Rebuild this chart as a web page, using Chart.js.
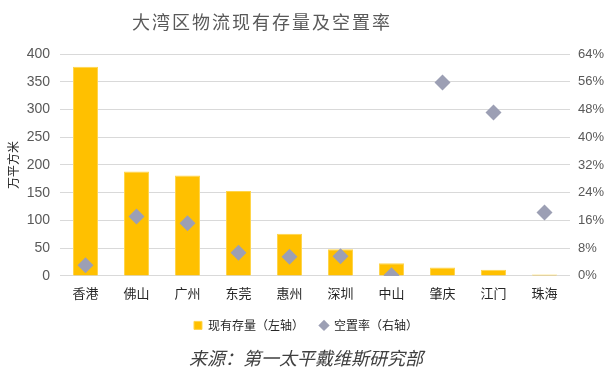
<!DOCTYPE html>
<html>
<head>
<meta charset="utf-8">
<script src="https://cdn.jsdelivr.net/npm/chart.js@4/dist/chart.umd.min.js"></script>
<style>
  html, body { margin: 0; padding: 0; background: #fff; }
  #wrap { width: 612px; height: 381px; }
</style>
</head>
<body>
<div id="wrap"><canvas id="mainChart" width="612" height="381"></canvas></div>
<script>
var cities = ["香港", "佛山", "广州", "东莞", "惠州", "深圳", "中山", "肇庆", "江门", "珠海"];
var stock = [377, 188, 181, 153, 76, 48, 23, 15, 11, 2.5];          // 万平方米
var vacancy = [0.031, 0.171, 0.152, 0.067, 0.055, 0.057, 0.002, 0.558, 0.471, 0.183];
var leftTicks = [0, 50, 100, 150, 200, 250, 300, 350, 400];
var rightTicks = [0, 0.08, 0.16, 0.24, 0.32, 0.40, 0.48, 0.56, 0.64];
var chartTitle = "大湾区物流现有存量及空置率";

var cjk = "'Noto Sans CJK SC', sans-serif";
var grey = "#595959";

// title drawn by hand: the original sits left of centre and is letter-spaced
var titlePlugin = {
    id: 'spacedTitle',
    afterDraw: function (chart) {
        var c = chart.ctx;
        c.save();
        c.font = "18px " + cjk;
        if ('letterSpacing' in c) c.letterSpacing = "2px";
        c.fillStyle = grey;
        c.textAlign = 'center';
        c.textBaseline = 'middle';
        c.fillText(chartTitle, 262, 22);
        c.restore();
    }
};

var chartData = {
    labels: cities,
    datasets: [
        {
            type: 'bar',
            label: "现有存量（左轴）",
            data: stock,
            yAxisID: 'y',
            backgroundColor: "#FFC000",
            borderColor: "#FFD54A",
            borderWidth: 1,
            barPercentage: 0.49,
            categoryPercentage: 1,
            pointStyle: 'rect',
            order: 2
        },
        {
            type: 'line',
            label: "空置率（右轴）",
            data: vacancy,
            yAxisID: 'y1',
            showLine: false,
            pointStyle: 'rectRot',
            pointRadius: 8,
            pointHoverRadius: 8,
            backgroundColor: "#9C9FB4",
            borderColor: "#9C9FB4",
            borderWidth: 0,
            order: 1
        }
    ]
};

var chartOptions = {
    responsive: false,
    animation: false,
    layout: { padding: { left: 6, right: 6, top: 54, bottom: 8 } },
    plugins: {
        title: { display: false },
        subtitle: {
            display: true,
            position: 'bottom',
            text: "来源：第一太平戴维斯研究部",
            color: "#404040",
            font: { family: cjk, size: 18, style: 'italic' },
            padding: { top: 6, bottom: 4 }
        },
        legend: {
            position: 'bottom',
            labels: {
                usePointStyle: true,
                boxWidth: 8,
                boxHeight: 8,
                padding: 16,
                color: "#262626",
                font: { family: cjk, size: 12 },
                sort: function (a, b) { return a.datasetIndex - b.datasetIndex; }
            }
        },
        tooltip: { enabled: false }
    },
    scales: {
        x: {
            grid: { display: false, drawTicks: false },
            border: { display: false },
            ticks: { color: "#262626", font: { family: cjk, size: 13 }, padding: 9 },
            afterFit: function (axis) { axis.height = 27.5; }
        },
        y: {
            position: 'left',
            min: 0,
            max: 400,
            afterBuildTicks: function (axis) {
                axis.ticks = leftTicks.map(function (v) { return { value: v }; });
            },
            afterFit: function (axis) { axis.width = 54; },
            grid: { color: "#D9D9D9", drawTicks: false },
            border: { display: false },
            ticks: { color: grey, font: { family: "'Liberation Sans', sans-serif", size: 14 }, padding: 10 },
            title: {
                display: true,
                text: "万平方米",
                color: "#262626",
                font: { family: cjk, size: 12 },
                padding: { top: 0, bottom: 6 }
            }
        },
        y1: {
            position: 'right',
            min: 0,
            max: 0.64,
            afterBuildTicks: function (axis) {
                axis.ticks = rightTicks.map(function (v) { return { value: v }; });
            },
            afterFit: function (axis) { axis.width = 36; },
            grid: { display: false, drawTicks: false },
            border: { display: false },
            ticks: {
                color: grey,
                font: { family: "'Liberation Sans', sans-serif", size: 13 },
                padding: 8,
                callback: function (v) { return Math.round(v * 100) + "%"; }
            }
        }
    }
};

var ctx = document.getElementById("mainChart").getContext("2d");
new Chart(ctx, { data: chartData, options: chartOptions, plugins: [titlePlugin] });
</script>
</body>
</html>
